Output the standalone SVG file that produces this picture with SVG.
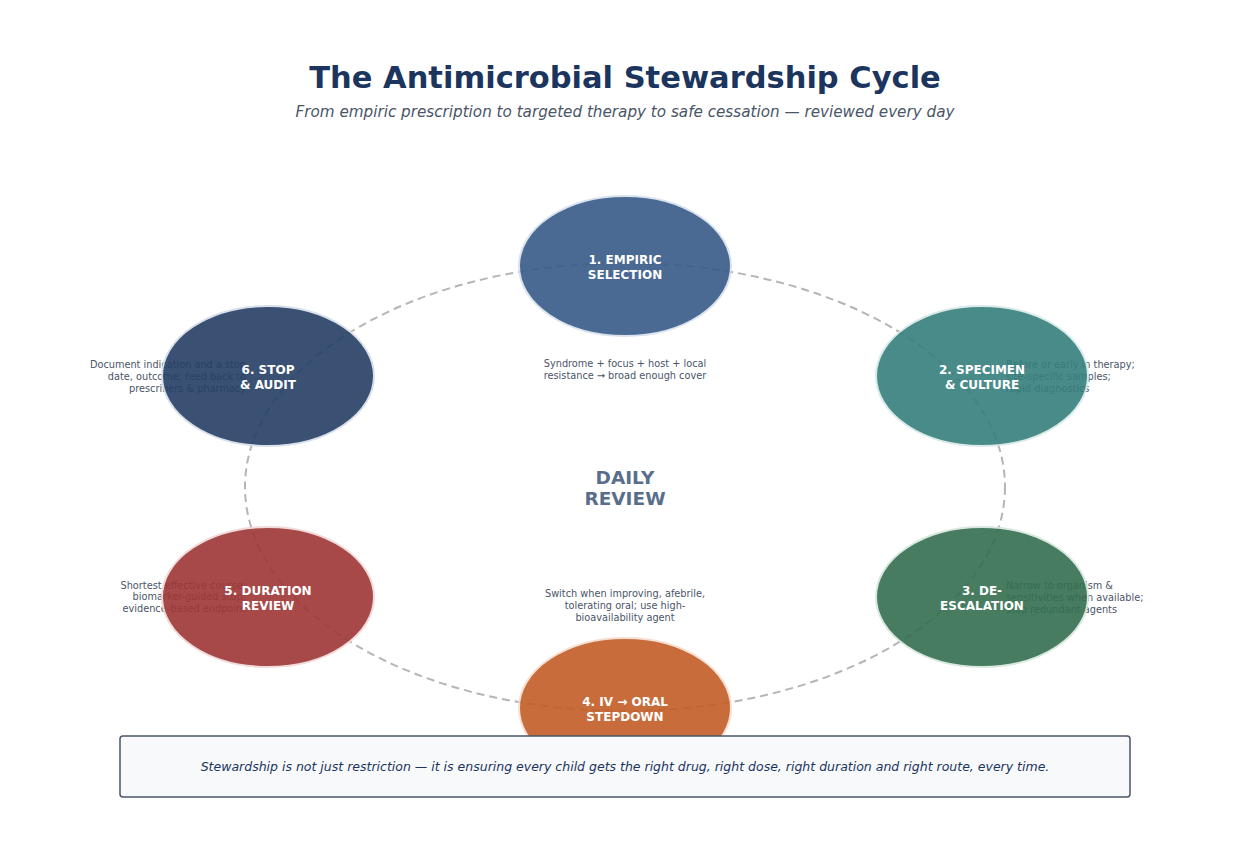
<svg xmlns="http://www.w3.org/2000/svg" width="1250" height="848" viewBox="0 0 1250 848">
<style>
.title{font-family:"DejaVu Sans",sans-serif;font-weight:bold;font-size:30.5px;fill:#1c355e;text-anchor:middle}
.sub{font-family:"DejaVu Sans",sans-serif;font-style:italic;font-size:15.2px;fill:#4a5568;text-anchor:middle}
.ann{font-family:"DejaVu Sans",sans-serif;font-size:9.75px;fill:#4a5568}
.lbl{font-family:"DejaVu Sans",sans-serif;font-weight:bold;font-size:12px;fill:#ffffff;text-anchor:middle}
.ctr{font-family:"DejaVu Sans",sans-serif;font-weight:bold;font-size:18.5px;fill:#5a6e8c;text-anchor:middle}
.foot{font-family:"DejaVu Sans",sans-serif;font-style:italic;font-size:12.5px;fill:#1c355e;text-anchor:middle}
.node{opacity:0.9;stroke-width:2}
</style>
<rect width="1250" height="848" fill="#ffffff"/>
<text class="title" x="625" y="88">The Antimicrobial Stewardship Cycle</text>
<text class="sub" x="625" y="117">From empiric prescription to targeted therapy to safe cessation — reviewed every day</text>

<g id="connectors">
<ellipse cx="625" cy="487" rx="380" ry="224" fill="none" stroke="#b5b5b5" stroke-width="2" stroke-dasharray="8 5"/>
</g>

<g id="annotations">
<text class="ann" text-anchor="middle"><tspan x="625" y="366.5">Syndrome + focus + host + local</tspan><tspan x="625" y="378.5">resistance → broad enough cover</tspan></text>
<text class="ann" text-anchor="start"><tspan x="1006" y="368">Before or early in therapy;</tspan><tspan x="1006" y="380">site-specific samples;</tspan><tspan x="1006" y="391.5">rapid diagnostics</tspan></text>
<text class="ann" text-anchor="start"><tspan x="1006" y="589">Narrow to organism &amp;</tspan><tspan x="1006" y="601">sensitivities when available;</tspan><tspan x="1006" y="612.5">stop redundant agents</tspan></text>
<text class="ann" text-anchor="middle"><tspan x="625" y="597">Switch when improving, afebrile,</tspan><tspan x="625" y="609">tolerating oral; use high-</tspan><tspan x="625" y="620.5">bioavailability agent</tspan></text>
<text class="ann" text-anchor="end"><tspan x="246" y="588.5">Shortest effective course;</tspan><tspan x="246" y="600">biomarker-guided stop;</tspan><tspan x="246" y="611.5">evidence-based endpoint</tspan></text>
<text class="ann" text-anchor="end"><tspan x="246" y="368">Document indication and a stop</tspan><tspan x="246" y="380">date, outcome; feed back to</tspan><tspan x="246" y="391.5">prescribers &amp; pharmacy</tspan></text>
</g>

<g id="node1">
<ellipse class="node" cx="625" cy="266" rx="106" ry="70" fill="#375a88" stroke="#d6e0ec"/>
<text class="lbl" x="625" y="263.5">1. EMPIRIC</text>
<text class="lbl" x="625" y="278.5">SELECTION</text>
</g>
<g id="node2">
<ellipse class="node" cx="982" cy="376" rx="106" ry="70" fill="#367f7d" stroke="#d4e8e7"/>
<text class="lbl" x="982" y="373.5">2. SPECIMEN</text>
<text class="lbl" x="982" y="388.5">&amp; CULTURE</text>
</g>
<g id="node3">
<ellipse class="node" cx="982" cy="597" rx="106" ry="70" fill="#346e50" stroke="#d4e6dc"/>
<text class="lbl" x="982" y="594.5">3. DE-</text>
<text class="lbl" x="982" y="609.5">ESCALATION</text>
</g>
<g id="node4">
<ellipse class="node" cx="625" cy="708" rx="106" ry="70" fill="#c35d28" stroke="#f5dccd"/>
<text class="lbl" x="625" y="705.5">4. IV → ORAL</text>
<text class="lbl" x="625" y="720.5">STEPDOWN</text>
</g>
<g id="node5">
<ellipse class="node" cx="268" cy="597" rx="106" ry="70" fill="#9e3636" stroke="#f0d6d6"/>
<text class="lbl" x="268" y="594.5">5. DURATION</text>
<text class="lbl" x="268" y="609.5">REVIEW</text>
</g>
<g id="node6">
<ellipse class="node" cx="268" cy="376" rx="106" ry="70" fill="#253f66" stroke="#d6dde8"/>
<text class="lbl" x="268" y="373.5">6. STOP</text>
<text class="lbl" x="268" y="388.5">&amp; AUDIT</text>
</g>

<g id="center">
<text class="ctr" x="625" y="483.5">DAILY</text>
<text class="ctr" x="625" y="504.5">REVIEW</text>
</g>

<g id="footer">
<rect x="120" y="736" width="1010" height="61" rx="3" fill="#f7f9fb" stroke="#4a5568" stroke-width="1.5"/>
<text class="foot" x="625" y="771">Stewardship is not just restriction — it is ensuring every child gets the right drug, right dose, right duration and right route, every time.</text>
</g>
</svg>
